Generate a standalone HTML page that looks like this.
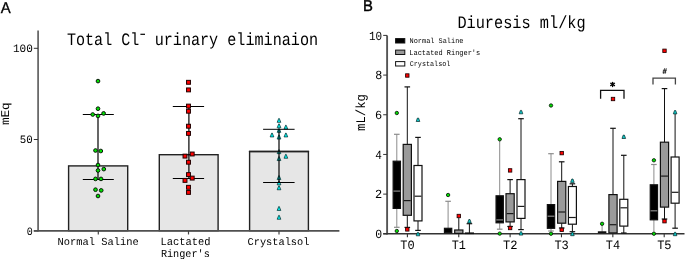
<!DOCTYPE html>
<html><head><meta charset="utf-8"><style>
html,body{margin:0;padding:0;background:#fff;}
body{width:685px;height:259px;overflow:hidden;}
svg{display:block;will-change:transform;text-rendering:geometricPrecision;}
</style></head><body>
<svg width="685" height="259" viewBox="0 0 685 259">
<rect width="685" height="259" fill="#fff"/>
<text x="0.87" y="13" font-size="15.7" font-family='"Liberation Sans", sans-serif' fill="#000" text-anchor="start" textLength="9.96" lengthAdjust="spacingAndGlyphs" stroke="#000" stroke-width="0.3">A</text>
<text x="67.04" y="44.6" font-size="17.46" font-family='"Liberation Mono", monospace' fill="#000" text-anchor="start" textLength="72.19" lengthAdjust="spacingAndGlyphs" >Total Cl</text>
<text x="154.63" y="44.6" font-size="17.46" font-family='"Liberation Mono", monospace' fill="#000" text-anchor="start" textLength="163.5" lengthAdjust="spacingAndGlyphs" >urinary eliminaion</text>
<line x1="140.4" y1="34.3" x2="145" y2="34.3" stroke="#000" stroke-width="1.2"/>
<line x1="38.1" y1="30.4" x2="38.1" y2="231.4" stroke="#6a6a6a" stroke-width="1.8"/>
<line x1="33.8" y1="48.3" x2="38" y2="48.3" stroke="#333" stroke-width="1"/>
<text x="12.9" y="51.6" font-size="11.23" font-family='"Liberation Mono", monospace' fill="#000" text-anchor="start" textLength="19.88" lengthAdjust="spacingAndGlyphs" >100</text>
<line x1="33.8" y1="139.5" x2="38" y2="139.5" stroke="#333" stroke-width="1"/>
<text x="19.83" y="143.3" font-size="11.23" font-family='"Liberation Mono", monospace' fill="#000" text-anchor="start" textLength="12.94" lengthAdjust="spacingAndGlyphs" >50</text>
<line x1="33.8" y1="230.9" x2="38" y2="230.9" stroke="#333" stroke-width="1"/>
<text x="26.69" y="234.6" font-size="11.23" font-family='"Liberation Mono", monospace' fill="#000" text-anchor="start" textLength="6.03" lengthAdjust="spacingAndGlyphs" >0</text>
<text transform="translate(9.4,124.5) rotate(-90)" x="-0.61" y="0" font-size="11.9" font-family='"Liberation Mono", monospace' textLength="22.82" lengthAdjust="spacingAndGlyphs" >mEq</text>
<rect x="68.6" y="165.9" width="59.10000000000001" height="64.79999999999998" fill="#e6e6e6" stroke="#222" stroke-width="1.4"/>
<rect x="159.3" y="154.7" width="58.79999999999998" height="76.0" fill="#e6e6e6" stroke="#222" stroke-width="1.4"/>
<rect x="249.6" y="151.5" width="58.79999999999998" height="79.19999999999999" fill="#e6e6e6" stroke="#222" stroke-width="1.4"/>
<line x1="33.8" y1="230.9" x2="339.4" y2="230.9" stroke="#505050" stroke-width="1.6"/>
<line x1="98.3" y1="230.8" x2="98.3" y2="234.5" stroke="#444" stroke-width="1.2"/>
<line x1="188.5" y1="230.8" x2="188.5" y2="234.5" stroke="#444" stroke-width="1.2"/>
<line x1="279" y1="230.8" x2="279" y2="234.5" stroke="#444" stroke-width="1.2"/>
<text x="57.48" y="245.2" font-size="10.78" font-family='"Liberation Mono", monospace' fill="#000" text-anchor="start" textLength="81.21" lengthAdjust="spacingAndGlyphs" >Normal Saline</text>
<text x="160.49" y="245.2" font-size="11.08" font-family='"Liberation Mono", monospace' fill="#000" text-anchor="start" textLength="50.02" lengthAdjust="spacingAndGlyphs" >Lactated</text>
<text x="160.89" y="257" font-size="10.78" font-family='"Liberation Mono", monospace' fill="#000" text-anchor="start" textLength="48.95" lengthAdjust="spacingAndGlyphs" >Ringer's</text>
<text x="247.53" y="245.1" font-size="10.63" font-family='"Liberation Mono", monospace' fill="#000" text-anchor="start" textLength="61.94" lengthAdjust="spacingAndGlyphs" >Crystalsol</text>
<path d="M278.75 118.45 L279.25 118.45 L280.85 122.35000000000001 L277.15 122.35000000000001 Z" fill="#00f0f0" stroke="#012626" stroke-width="0.7" stroke-linejoin="round"/>
<path d="M278.75 123.85 L279.25 123.85 L280.85 127.75 L277.15 127.75 Z" fill="#00f0f0" stroke="#012626" stroke-width="0.7" stroke-linejoin="round"/>
<path d="M285.65 125.14999999999999 L286.15 125.14999999999999 L287.75 129.04999999999998 L284.04999999999995 129.04999999999998 Z" fill="#00f0f0" stroke="#012626" stroke-width="0.7" stroke-linejoin="round"/>
<path d="M278.75 128.45000000000002 L279.25 128.45000000000002 L280.85 132.35 L277.15 132.35 Z" fill="#00f0f0" stroke="#012626" stroke-width="0.7" stroke-linejoin="round"/>
<path d="M271.75 133.05 L272.25 133.05 L273.85 136.95 L270.15 136.95 Z" fill="#00f0f0" stroke="#012626" stroke-width="0.7" stroke-linejoin="round"/>
<path d="M285.65 133.05 L286.15 133.05 L287.75 136.95 L284.04999999999995 136.95 Z" fill="#00f0f0" stroke="#012626" stroke-width="0.7" stroke-linejoin="round"/>
<path d="M278.75 135.15 L279.25 135.15 L280.85 139.04999999999998 L277.15 139.04999999999998 Z" fill="#00f0f0" stroke="#012626" stroke-width="0.7" stroke-linejoin="round"/>
<path d="M278.75 149.75 L279.25 149.75 L280.85 153.64999999999998 L277.15 153.64999999999998 Z" fill="#00f0f0" stroke="#012626" stroke-width="0.7" stroke-linejoin="round"/>
<path d="M285.65 154.35000000000002 L286.15 154.35000000000002 L287.75 158.25 L284.04999999999995 158.25 Z" fill="#00f0f0" stroke="#012626" stroke-width="0.7" stroke-linejoin="round"/>
<path d="M278.75 156.65 L279.25 156.65 L280.85 160.54999999999998 L277.15 160.54999999999998 Z" fill="#00f0f0" stroke="#012626" stroke-width="0.7" stroke-linejoin="round"/>
<path d="M278.75 175.65 L279.25 175.65 L280.85 179.54999999999998 L277.15 179.54999999999998 Z" fill="#00f0f0" stroke="#012626" stroke-width="0.7" stroke-linejoin="round"/>
<path d="M278.75 180.95000000000002 L279.25 180.95000000000002 L280.85 184.85 L277.15 184.85 Z" fill="#00f0f0" stroke="#012626" stroke-width="0.7" stroke-linejoin="round"/>
<path d="M278.75 185.85000000000002 L279.25 185.85000000000002 L280.85 189.75 L277.15 189.75 Z" fill="#00f0f0" stroke="#012626" stroke-width="0.7" stroke-linejoin="round"/>
<path d="M278.75 206.55 L279.25 206.55 L280.85 210.45 L277.15 210.45 Z" fill="#00f0f0" stroke="#012626" stroke-width="0.7" stroke-linejoin="round"/>
<path d="M278.75 215.35000000000002 L279.25 215.35000000000002 L280.85 219.25 L277.15 219.25 Z" fill="#00f0f0" stroke="#012626" stroke-width="0.7" stroke-linejoin="round"/>
<line x1="248.9" y1="151.5" x2="309.09999999999997" y2="151.5" stroke="#222" stroke-width="1.4"/>
<line x1="279.0" y1="129.3" x2="279.0" y2="182.5" stroke="#000" stroke-width="1.2"/>
<line x1="263.1" y1="129.3" x2="294.6" y2="129.3" stroke="#000" stroke-width="1.0"/>
<line x1="263.1" y1="182.5" x2="294.6" y2="182.5" stroke="#000" stroke-width="1.0"/>
<line x1="98.0" y1="114.5" x2="98.0" y2="179.5" stroke="#000" stroke-width="1.2"/>
<line x1="82.8" y1="114.5" x2="113.8" y2="114.5" stroke="#000" stroke-width="1.0"/>
<line x1="82.8" y1="179.5" x2="113.8" y2="179.5" stroke="#000" stroke-width="1.0"/>
<line x1="188.9" y1="106.5" x2="188.9" y2="178.5" stroke="#000" stroke-width="1.2"/>
<line x1="172.8" y1="106.5" x2="204.1" y2="106.5" stroke="#000" stroke-width="1.0"/>
<line x1="172.8" y1="178.5" x2="204.1" y2="178.5" stroke="#000" stroke-width="1.0"/>
<circle cx="98" cy="81.1" r="1.85" fill="#00e000" stroke="#0a1a0a" stroke-width="1.0"/>
<circle cx="98" cy="108.7" r="1.85" fill="#00e000" stroke="#0a1a0a" stroke-width="1.0"/>
<circle cx="92.7" cy="114.5" r="1.85" fill="#00e000" stroke="#0a1a0a" stroke-width="1.0"/>
<circle cx="98" cy="115.9" r="1.85" fill="#00e000" stroke="#0a1a0a" stroke-width="1.0"/>
<circle cx="103.6" cy="113.4" r="1.85" fill="#00e000" stroke="#0a1a0a" stroke-width="1.0"/>
<circle cx="95.5" cy="150.5" r="1.85" fill="#00e000" stroke="#0a1a0a" stroke-width="1.0"/>
<circle cx="100.8" cy="151" r="1.85" fill="#00e000" stroke="#0a1a0a" stroke-width="1.0"/>
<circle cx="98" cy="165" r="1.85" fill="#00e000" stroke="#0a1a0a" stroke-width="1.0"/>
<circle cx="98" cy="170.5" r="1.85" fill="#00e000" stroke="#0a1a0a" stroke-width="1.0"/>
<circle cx="103.8" cy="169.1" r="1.85" fill="#00e000" stroke="#0a1a0a" stroke-width="1.0"/>
<circle cx="95.5" cy="178.9" r="1.85" fill="#00e000" stroke="#0a1a0a" stroke-width="1.0"/>
<circle cx="101" cy="178.9" r="1.85" fill="#00e000" stroke="#0a1a0a" stroke-width="1.0"/>
<circle cx="95.5" cy="189.7" r="1.85" fill="#00e000" stroke="#0a1a0a" stroke-width="1.0"/>
<circle cx="101.2" cy="190.4" r="1.85" fill="#00e000" stroke="#0a1a0a" stroke-width="1.0"/>
<circle cx="98" cy="196" r="1.85" fill="#00e000" stroke="#0a1a0a" stroke-width="1.0"/>
<rect x="186.55" y="80.35" width="3.9" height="3.9" fill="#ff0000" stroke="#200000" stroke-width="1.0"/>
<rect x="186.55" y="87.95" width="3.9" height="3.9" fill="#ff0000" stroke="#200000" stroke-width="1.0"/>
<rect x="186.55" y="104.14999999999999" width="3.9" height="3.9" fill="#ff0000" stroke="#200000" stroke-width="1.0"/>
<rect x="186.55" y="109.25" width="3.9" height="3.9" fill="#ff0000" stroke="#200000" stroke-width="1.0"/>
<rect x="186.55" y="124.25" width="3.9" height="3.9" fill="#ff0000" stroke="#200000" stroke-width="1.0"/>
<rect x="186.55" y="131.45000000000002" width="3.9" height="3.9" fill="#ff0000" stroke="#200000" stroke-width="1.0"/>
<rect x="183.05" y="154.15" width="3.9" height="3.9" fill="#ff0000" stroke="#200000" stroke-width="1.0"/>
<rect x="190.25" y="152.05" width="3.9" height="3.9" fill="#ff0000" stroke="#200000" stroke-width="1.0"/>
<rect x="186.55" y="160.25" width="3.9" height="3.9" fill="#ff0000" stroke="#200000" stroke-width="1.0"/>
<rect x="186.55" y="172.65" width="3.9" height="3.9" fill="#ff0000" stroke="#200000" stroke-width="1.0"/>
<rect x="190.25" y="176.15" width="3.9" height="3.9" fill="#ff0000" stroke="#200000" stroke-width="1.0"/>
<rect x="183.05" y="178.45000000000002" width="3.9" height="3.9" fill="#ff0000" stroke="#200000" stroke-width="1.0"/>
<rect x="186.55" y="185.35000000000002" width="3.9" height="3.9" fill="#ff0000" stroke="#200000" stroke-width="1.0"/>
<rect x="186.55" y="190.45000000000002" width="3.9" height="3.9" fill="#ff0000" stroke="#200000" stroke-width="1.0"/>
<text x="363.08" y="10.7" font-size="15.7" font-family='"Liberation Sans", sans-serif' fill="#000" text-anchor="start" textLength="9.9" lengthAdjust="spacingAndGlyphs" stroke="#000" stroke-width="0.4">B</text>
<text x="457.39" y="28.1" font-size="17.46" font-family='"Liberation Mono", monospace' fill="#000" text-anchor="start" textLength="128.31" lengthAdjust="spacingAndGlyphs" >Diuresis ml/kg</text>
<line x1="387.1" y1="35.4" x2="387.1" y2="234.5" stroke="#555" stroke-width="1.9"/>
<line x1="383.2" y1="233.8" x2="387" y2="233.8" stroke="#333" stroke-width="1"/>
<text x="375.2" y="237.9" font-size="12.45" font-family='"Liberation Mono", monospace' fill="#000" text-anchor="start" textLength="6.9" lengthAdjust="spacingAndGlyphs" >0</text>
<line x1="383.2" y1="194.12" x2="387" y2="194.12" stroke="#333" stroke-width="1"/>
<text x="375.06" y="198.22" font-size="12.45" font-family='"Liberation Mono", monospace' fill="#000" text-anchor="start" textLength="7.19" lengthAdjust="spacingAndGlyphs" >2</text>
<line x1="383.2" y1="154.44" x2="387" y2="154.44" stroke="#333" stroke-width="1"/>
<text x="375.35" y="158.54" font-size="12.45" font-family='"Liberation Mono", monospace' fill="#000" text-anchor="start" textLength="6.61" lengthAdjust="spacingAndGlyphs" >4</text>
<line x1="383.2" y1="114.76000000000002" x2="387" y2="114.76000000000002" stroke="#333" stroke-width="1"/>
<text x="375.02" y="118.86000000000001" font-size="12.45" font-family='"Liberation Mono", monospace' fill="#000" text-anchor="start" textLength="7.15" lengthAdjust="spacingAndGlyphs" >6</text>
<line x1="383.2" y1="75.08000000000001" x2="387" y2="75.08000000000001" stroke="#333" stroke-width="1"/>
<text x="375.14" y="79.18" font-size="12.45" font-family='"Liberation Mono", monospace' fill="#000" text-anchor="start" textLength="7.03" lengthAdjust="spacingAndGlyphs" >8</text>
<line x1="383.2" y1="35.400000000000006" x2="387" y2="35.400000000000006" stroke="#333" stroke-width="1"/>
<text x="368.91" y="39.50000000000001" font-size="12.45" font-family='"Liberation Mono", monospace' fill="#000" text-anchor="start" textLength="13.17" lengthAdjust="spacingAndGlyphs" >10</text>
<text transform="translate(364.9,130.3) rotate(-90)" x="-0.59" y="0" font-size="13.2" font-family='"Liberation Mono", monospace' textLength="36.84" lengthAdjust="spacingAndGlyphs" >mL/kg</text>
<line x1="383.2" y1="233.8" x2="684.5" y2="233.8" stroke="#333" stroke-width="1.6"/>
<rect x="395.6" y="38.599999999999994" width="9.2" height="4.4" fill="#000" stroke="#111" stroke-width="1"/>
<text x="409.55" y="43" font-size="7.29" font-family='"Liberation Mono", monospace' fill="#000" text-anchor="start" textLength="53.9" lengthAdjust="spacingAndGlyphs" >Normal Saline</text>
<rect x="395.6" y="50.099999999999994" width="9.2" height="4.4" fill="#999" stroke="#111" stroke-width="1"/>
<text x="409.3" y="54.9" font-size="7.44" font-family='"Liberation Mono", monospace' fill="#000" text-anchor="start" textLength="70.88" lengthAdjust="spacingAndGlyphs" >Lactated Ringer's</text>
<rect x="395.6" y="61.599999999999994" width="9.2" height="4.4" fill="#fff" stroke="#111" stroke-width="1"/>
<text x="409.73" y="66.3" font-size="7.29" font-family='"Liberation Mono", monospace' fill="#000" text-anchor="start" textLength="40.65" lengthAdjust="spacingAndGlyphs" >Crystalsol</text>
<line x1="407.4" y1="233.8" x2="407.4" y2="237.3" stroke="#333" stroke-width="1.1"/>
<text x="400.36" y="249.3" font-size="12.75" font-family='"Liberation Mono", monospace' fill="#000" text-anchor="start" textLength="14.38" lengthAdjust="spacingAndGlyphs" >T0</text>
<line x1="458.76" y1="233.8" x2="458.76" y2="237.3" stroke="#333" stroke-width="1.1"/>
<text x="451.72" y="249.3" font-size="12.75" font-family='"Liberation Mono", monospace' fill="#000" text-anchor="start" textLength="14.21" lengthAdjust="spacingAndGlyphs" >T1</text>
<line x1="510.12" y1="233.8" x2="510.12" y2="237.3" stroke="#333" stroke-width="1.1"/>
<text x="503.07" y="249.3" font-size="12.75" font-family='"Liberation Mono", monospace' fill="#000" text-anchor="start" textLength="14.5" lengthAdjust="spacingAndGlyphs" >T2</text>
<line x1="561.48" y1="233.8" x2="561.48" y2="237.3" stroke="#333" stroke-width="1.1"/>
<text x="554.43" y="249.3" font-size="12.75" font-family='"Liberation Mono", monospace' fill="#000" text-anchor="start" textLength="14.41" lengthAdjust="spacingAndGlyphs" >T3</text>
<line x1="612.8399999999999" y1="233.8" x2="612.8399999999999" y2="237.3" stroke="#333" stroke-width="1.1"/>
<text x="605.8" y="249.3" font-size="12.75" font-family='"Liberation Mono", monospace' fill="#000" text-anchor="start" textLength="14.24" lengthAdjust="spacingAndGlyphs" >T4</text>
<line x1="664.2" y1="233.8" x2="664.2" y2="237.3" stroke="#333" stroke-width="1.1"/>
<text x="657.15" y="249.3" font-size="12.75" font-family='"Liberation Mono", monospace' fill="#000" text-anchor="start" textLength="14.41" lengthAdjust="spacingAndGlyphs" >T5</text>
<line x1="396.8" y1="134.3" x2="396.8" y2="161.2" stroke="#8c8c8c" stroke-width="1.0"/>
<line x1="394.0" y1="134.3" x2="399.6" y2="134.3" stroke="#8c8c8c" stroke-width="1.2"/>
<line x1="396.8" y1="208.4" x2="396.8" y2="227.3" stroke="#8c8c8c" stroke-width="1.0"/>
<line x1="394.0" y1="227.3" x2="399.6" y2="227.3" stroke="#8c8c8c" stroke-width="1.2"/>
<rect x="393.15000000000003" y="161.2" width="7.3" height="47.20000000000002" fill="#000" stroke="#111" stroke-width="1.2"/>
<line x1="393.40000000000003" y1="191.1" x2="400.2" y2="191.1" stroke="#8a8a8a" stroke-width="1.2"/>
<line x1="407.3" y1="86.9" x2="407.3" y2="144.4" stroke="#111" stroke-width="1.0"/>
<line x1="404.5" y1="86.9" x2="410.1" y2="86.9" stroke="#111" stroke-width="1.2"/>
<line x1="407.3" y1="215.3" x2="407.3" y2="227.4" stroke="#111" stroke-width="1.0"/>
<line x1="404.5" y1="227.4" x2="410.1" y2="227.4" stroke="#111" stroke-width="1.2"/>
<rect x="403.2" y="144.4" width="8.2" height="70.9" fill="#9a9a9a" stroke="#111" stroke-width="1.2"/>
<line x1="403.90000000000003" y1="200.6" x2="410.7" y2="200.6" stroke="#1a1a1a" stroke-width="1.2"/>
<line x1="418.0" y1="137.4" x2="418.0" y2="165.5" stroke="#111" stroke-width="1.0"/>
<line x1="415.2" y1="137.4" x2="420.8" y2="137.4" stroke="#111" stroke-width="1.2"/>
<line x1="418.0" y1="220.9" x2="418.0" y2="230.4" stroke="#111" stroke-width="1.0"/>
<line x1="415.2" y1="230.4" x2="420.8" y2="230.4" stroke="#111" stroke-width="1.2"/>
<rect x="414.0" y="165.5" width="8.0" height="55.400000000000006" fill="#fff" stroke="#111" stroke-width="1.2"/>
<line x1="414.6" y1="196.2" x2="421.4" y2="196.2" stroke="#1a1a1a" stroke-width="1.2"/>
<line x1="448.1" y1="201.3" x2="448.1" y2="228.3" stroke="#8c8c8c" stroke-width="1.0"/>
<line x1="445.3" y1="201.3" x2="450.90000000000003" y2="201.3" stroke="#8c8c8c" stroke-width="1.2"/>
<rect x="444.45000000000005" y="228.3" width="7.3" height="4.5" fill="#000" stroke="#111" stroke-width="1.2"/>
<line x1="458.8" y1="218" x2="458.8" y2="230.0" stroke="#111" stroke-width="1.0"/>
<rect x="454.7" y="230.0" width="8.2" height="3.4000000000000057" fill="#9a9a9a" stroke="#111" stroke-width="1.2"/>
<line x1="469.4" y1="223.7" x2="469.4" y2="233.0" stroke="#111" stroke-width="1.0"/>
<line x1="466.59999999999997" y1="223.7" x2="472.2" y2="223.7" stroke="#111" stroke-width="1.2"/>
<rect x="465.4" y="233.0" width="8.0" height="0.5" fill="#fff" stroke="#111" stroke-width="1.2"/>
<line x1="499.7" y1="139.3" x2="499.7" y2="195.8" stroke="#8c8c8c" stroke-width="1.0"/>
<line x1="499.7" y1="222.8" x2="499.7" y2="229.2" stroke="#8c8c8c" stroke-width="1.0"/>
<line x1="496.9" y1="229.2" x2="502.5" y2="229.2" stroke="#8c8c8c" stroke-width="1.2"/>
<rect x="496.05" y="195.8" width="7.3" height="27.0" fill="#000" stroke="#111" stroke-width="1.2"/>
<line x1="496.3" y1="219.9" x2="503.09999999999997" y2="219.9" stroke="#8a8a8a" stroke-width="1.2"/>
<line x1="510.1" y1="179.6" x2="510.1" y2="193.7" stroke="#111" stroke-width="1.0"/>
<line x1="507.3" y1="179.6" x2="512.9" y2="179.6" stroke="#111" stroke-width="1.2"/>
<line x1="510.1" y1="221.9" x2="510.1" y2="226.5" stroke="#111" stroke-width="1.0"/>
<line x1="507.3" y1="226.5" x2="512.9" y2="226.5" stroke="#111" stroke-width="1.2"/>
<rect x="506.0" y="193.7" width="8.2" height="28.200000000000017" fill="#9a9a9a" stroke="#111" stroke-width="1.2"/>
<line x1="506.70000000000005" y1="213.6" x2="513.5" y2="213.6" stroke="#1a1a1a" stroke-width="1.2"/>
<line x1="521.0" y1="118.7" x2="521.0" y2="179.6" stroke="#111" stroke-width="1.0"/>
<line x1="518.2" y1="118.7" x2="523.8" y2="118.7" stroke="#111" stroke-width="1.2"/>
<line x1="521.0" y1="218.4" x2="521.0" y2="229.6" stroke="#111" stroke-width="1.0"/>
<line x1="518.2" y1="229.6" x2="523.8" y2="229.6" stroke="#111" stroke-width="1.2"/>
<rect x="517.0" y="179.6" width="8.0" height="38.80000000000001" fill="#fff" stroke="#111" stroke-width="1.2"/>
<line x1="517.6" y1="206.4" x2="524.4" y2="206.4" stroke="#1a1a1a" stroke-width="1.2"/>
<line x1="551.0" y1="153.7" x2="551.0" y2="204.6" stroke="#8c8c8c" stroke-width="1.0"/>
<line x1="548.2" y1="153.7" x2="553.8" y2="153.7" stroke="#8c8c8c" stroke-width="1.2"/>
<line x1="551.0" y1="228.3" x2="551.0" y2="231.0" stroke="#8c8c8c" stroke-width="1.0"/>
<line x1="548.2" y1="231.0" x2="553.8" y2="231.0" stroke="#8c8c8c" stroke-width="1.2"/>
<rect x="547.35" y="204.6" width="7.3" height="23.700000000000017" fill="#000" stroke="#111" stroke-width="1.2"/>
<line x1="547.6" y1="216.2" x2="554.4" y2="216.2" stroke="#8a8a8a" stroke-width="1.2"/>
<line x1="561.7" y1="161.8" x2="561.7" y2="181.4" stroke="#111" stroke-width="1.0"/>
<line x1="558.9000000000001" y1="161.8" x2="564.5" y2="161.8" stroke="#111" stroke-width="1.2"/>
<line x1="561.7" y1="223.2" x2="561.7" y2="228.0" stroke="#111" stroke-width="1.0"/>
<line x1="558.9000000000001" y1="228.0" x2="564.5" y2="228.0" stroke="#111" stroke-width="1.2"/>
<rect x="557.6" y="181.4" width="8.2" height="41.79999999999998" fill="#9a9a9a" stroke="#111" stroke-width="1.2"/>
<line x1="558.3000000000001" y1="212" x2="565.1" y2="212" stroke="#1a1a1a" stroke-width="1.2"/>
<line x1="572.4" y1="183.8" x2="572.4" y2="186.5" stroke="#111" stroke-width="1.0"/>
<line x1="569.6" y1="183.8" x2="575.1999999999999" y2="183.8" stroke="#111" stroke-width="1.2"/>
<line x1="572.4" y1="224.2" x2="572.4" y2="231.7" stroke="#111" stroke-width="1.0"/>
<line x1="569.6" y1="231.7" x2="575.1999999999999" y2="231.7" stroke="#111" stroke-width="1.2"/>
<rect x="568.4" y="186.5" width="8.0" height="37.69999999999999" fill="#fff" stroke="#111" stroke-width="1.2"/>
<line x1="569.0" y1="217.5" x2="575.8" y2="217.5" stroke="#1a1a1a" stroke-width="1.2"/>
<line x1="602.1" y1="225.5" x2="602.1" y2="231.9" stroke="#8c8c8c" stroke-width="1.0"/>
<rect x="598.45" y="231.9" width="7.3" height="0.799999999999983" fill="#000" stroke="#111" stroke-width="1.2"/>
<line x1="613.0" y1="128.3" x2="613.0" y2="194.6" stroke="#111" stroke-width="1.0"/>
<line x1="610.2" y1="128.3" x2="615.8" y2="128.3" stroke="#111" stroke-width="1.2"/>
<rect x="608.9" y="194.6" width="8.2" height="38.30000000000001" fill="#9a9a9a" stroke="#111" stroke-width="1.2"/>
<line x1="609.6" y1="224.7" x2="616.4" y2="224.7" stroke="#1a1a1a" stroke-width="1.2"/>
<line x1="623.8" y1="155.3" x2="623.8" y2="199.3" stroke="#111" stroke-width="1.0"/>
<line x1="621.0" y1="155.3" x2="626.5999999999999" y2="155.3" stroke="#111" stroke-width="1.2"/>
<line x1="623.8" y1="226.1" x2="623.8" y2="233.0" stroke="#111" stroke-width="1.0"/>
<line x1="621.0" y1="233.0" x2="626.5999999999999" y2="233.0" stroke="#111" stroke-width="1.2"/>
<rect x="619.8" y="199.3" width="8.0" height="26.799999999999983" fill="#fff" stroke="#111" stroke-width="1.2"/>
<line x1="620.4" y1="207.8" x2="627.1999999999999" y2="207.8" stroke="#1a1a1a" stroke-width="1.2"/>
<line x1="653.9" y1="164.5" x2="653.9" y2="184.8" stroke="#8c8c8c" stroke-width="1.0"/>
<line x1="651.1" y1="164.5" x2="656.6999999999999" y2="164.5" stroke="#8c8c8c" stroke-width="1.2"/>
<line x1="653.9" y1="219.8" x2="653.9" y2="231.5" stroke="#8c8c8c" stroke-width="1.0"/>
<rect x="650.25" y="184.8" width="7.3" height="35.0" fill="#000" stroke="#111" stroke-width="1.2"/>
<line x1="650.5" y1="210.8" x2="657.3" y2="210.8" stroke="#8a8a8a" stroke-width="1.2"/>
<line x1="664.5" y1="88.6" x2="664.5" y2="142.2" stroke="#111" stroke-width="1.0"/>
<line x1="661.7" y1="88.6" x2="667.3" y2="88.6" stroke="#111" stroke-width="1.2"/>
<line x1="664.5" y1="207.1" x2="664.5" y2="219.0" stroke="#111" stroke-width="1.0"/>
<line x1="661.7" y1="219.0" x2="667.3" y2="219.0" stroke="#111" stroke-width="1.2"/>
<rect x="660.4" y="142.2" width="8.2" height="64.9" fill="#9a9a9a" stroke="#111" stroke-width="1.2"/>
<line x1="661.1" y1="176.1" x2="667.9" y2="176.1" stroke="#1a1a1a" stroke-width="1.2"/>
<line x1="675.1" y1="112.2" x2="675.1" y2="157" stroke="#111" stroke-width="1.0"/>
<line x1="675.1" y1="203.2" x2="675.1" y2="228.2" stroke="#111" stroke-width="1.0"/>
<line x1="672.3000000000001" y1="228.2" x2="677.9" y2="228.2" stroke="#111" stroke-width="1.2"/>
<rect x="671.1" y="157" width="8.0" height="46.19999999999999" fill="#fff" stroke="#111" stroke-width="1.2"/>
<line x1="671.7" y1="192.3" x2="678.5" y2="192.3" stroke="#1a1a1a" stroke-width="1.2"/>
<circle cx="396.8" cy="113" r="1.7" fill="#00e000" stroke="#0a1a0a" stroke-width="0.85"/>
<circle cx="396.8" cy="231" r="1.7" fill="#00e000" stroke="#0a1a0a" stroke-width="0.85"/>
<rect x="405.6" y="73.8" width="3.4" height="3.4" fill="#ff0000" stroke="#200000" stroke-width="0.85"/>
<rect x="405.6" y="227.70000000000002" width="3.4" height="3.4" fill="#ff0000" stroke="#200000" stroke-width="0.85"/>
<path d="M417.4 118.1 L418.6 118.1 L419.8 121.5 L416.2 121.5 Z" fill="#10c8c8" stroke="#012626" stroke-width="0.7" stroke-linejoin="round"/>
<path d="M417.4 232.4 L418.6 232.4 L419.8 235.79999999999998 L416.2 235.79999999999998 Z" fill="#10c8c8" stroke="#012626" stroke-width="0.7" stroke-linejoin="round"/>
<circle cx="448.1" cy="195" r="1.7" fill="#00e000" stroke="#0a1a0a" stroke-width="0.85"/>
<rect x="457.1" y="214.3" width="3.4" height="3.4" fill="#ff0000" stroke="#200000" stroke-width="0.85"/>
<path d="M468.79999999999995 219.5 L470.0 219.5 L471.2 222.89999999999998 L467.59999999999997 222.89999999999998 Z" fill="#10c8c8" stroke="#012626" stroke-width="0.7" stroke-linejoin="round"/>
<circle cx="499.7" cy="139.3" r="1.7" fill="#00e000" stroke="#0a1a0a" stroke-width="0.85"/>
<circle cx="499.7" cy="233.6" r="1.7" fill="#00e000" stroke="#0a1a0a" stroke-width="0.85"/>
<rect x="508.40000000000003" y="168.70000000000002" width="3.4" height="3.4" fill="#ff0000" stroke="#200000" stroke-width="0.85"/>
<rect x="508.40000000000003" y="226.3" width="3.4" height="3.4" fill="#ff0000" stroke="#200000" stroke-width="0.85"/>
<path d="M520.4 110.39999999999999 L521.6 110.39999999999999 L522.8 113.8 L519.2 113.8 Z" fill="#10c8c8" stroke="#012626" stroke-width="0.7" stroke-linejoin="round"/>
<path d="M520.4 231.70000000000002 L521.6 231.70000000000002 L522.8 235.1 L519.2 235.1 Z" fill="#10c8c8" stroke="#012626" stroke-width="0.7" stroke-linejoin="round"/>
<circle cx="551.0" cy="105.5" r="1.7" fill="#00e000" stroke="#0a1a0a" stroke-width="0.85"/>
<circle cx="551.0" cy="233.7" r="1.7" fill="#00e000" stroke="#0a1a0a" stroke-width="0.85"/>
<rect x="560.0" y="151.4" width="3.4" height="3.4" fill="#ff0000" stroke="#200000" stroke-width="0.85"/>
<rect x="560.0" y="228.10000000000002" width="3.4" height="3.4" fill="#ff0000" stroke="#200000" stroke-width="0.85"/>
<path d="M571.8 179.0 L573.0 179.0 L574.1999999999999 182.39999999999998 L570.6 182.39999999999998 Z" fill="#10c8c8" stroke="#012626" stroke-width="0.7" stroke-linejoin="round"/>
<path d="M571.8 232.3 L573.0 232.3 L574.1999999999999 235.7 L570.6 235.7 Z" fill="#10c8c8" stroke="#012626" stroke-width="0.7" stroke-linejoin="round"/>
<circle cx="602.1" cy="223.8" r="1.7" fill="#00e000" stroke="#0a1a0a" stroke-width="0.85"/>
<rect x="611.3" y="97.3" width="3.4" height="3.4" fill="#ff0000" stroke="#200000" stroke-width="0.85"/>
<path d="M623.1999999999999 135.10000000000002 L624.4 135.10000000000002 L625.5999999999999 138.5 L622.0 138.5 Z" fill="#10c8c8" stroke="#012626" stroke-width="0.7" stroke-linejoin="round"/>
<circle cx="653.9" cy="160.3" r="1.7" fill="#00e000" stroke="#0a1a0a" stroke-width="0.85"/>
<circle cx="653.9" cy="233.7" r="1.7" fill="#00e000" stroke="#0a1a0a" stroke-width="0.85"/>
<rect x="662.8" y="49.099999999999994" width="3.4" height="3.4" fill="#ff0000" stroke="#200000" stroke-width="0.85"/>
<rect x="662.8" y="219.5" width="3.4" height="3.4" fill="#ff0000" stroke="#200000" stroke-width="0.85"/>
<path d="M674.5 110.5 L675.7 110.5 L676.9 113.9 L673.3000000000001 113.9 Z" fill="#10c8c8" stroke="#012626" stroke-width="0.7" stroke-linejoin="round"/>
<path d="M674.5 232.3 L675.7 232.3 L676.9 235.7 L673.3000000000001 235.7 Z" fill="#10c8c8" stroke="#012626" stroke-width="0.7" stroke-linejoin="round"/>
<path d="M600.6 98.7 V90.3 H624 V98.7" fill="none" stroke="#111" stroke-width="1.3"/>
<g stroke="#000" stroke-width="1.3" stroke-linecap="round"><line x1="612.6" y1="82.3" x2="612.6" y2="86.6"/><line x1="610.7" y1="83.3" x2="614.5" y2="85.6"/><line x1="610.7" y1="85.6" x2="614.5" y2="83.3"/></g>
<path d="M653 84.4 V78.1 H675.4 V84.4" fill="none" stroke="#444" stroke-width="1.3"/>
<g stroke="#222" stroke-width="0.9"><line x1="663.3" y1="73.8" x2="664.6" y2="68.3"/><line x1="665.0" y1="73.8" x2="666.3" y2="68.3"/><line x1="662.9" y1="70.3" x2="666.6" y2="70.3"/><line x1="662.5" y1="72.1" x2="666.2" y2="72.1"/></g>
</svg>
</body></html>
